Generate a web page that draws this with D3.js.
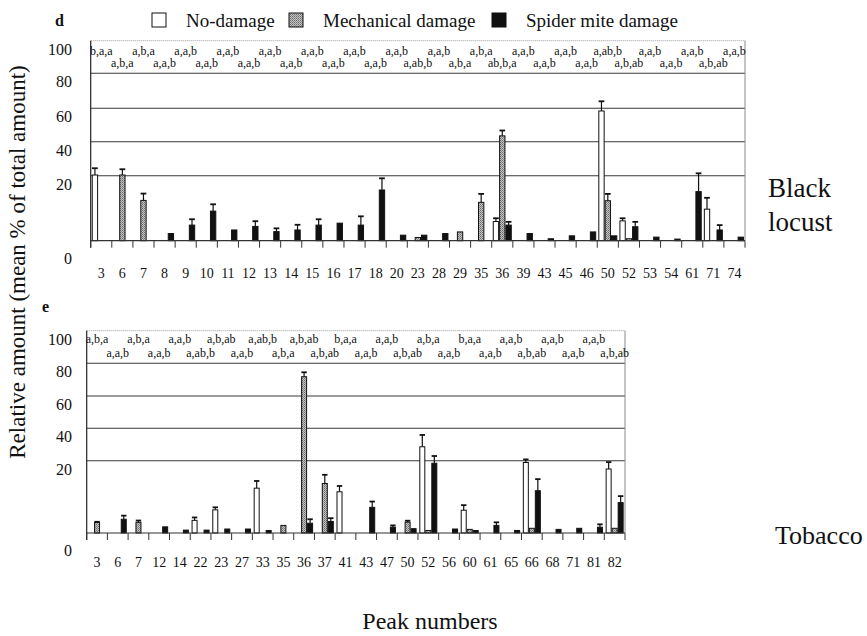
<!DOCTYPE html>
<html>
<head>
<meta charset="utf-8">
<script src="https://cdn.jsdelivr.net/npm/d3@7"></script>
<style>
  html, body { margin: 0; padding: 0; background: #fff; }
  svg { display: block; }
</style>
</head>
<body>
<svg id="chart" width="867" height="636" font-family="'Liberation Serif', 'DejaVu Serif', serif"></svg>
<script>
// ---------- DATA ----------
const seriesNames = ["No-damage", "Mechanical damage", "Spider mite damage"];
const yTickValues = [0, 20, 40, 60, 80, 100];

// Panel d: Black locust
const peaksD = ["3","6","7","8","9","10","11","12","13","14","15","16","17","18","20","23","28","29","35","36","39","43","45","46","50","52","53","54","61","71","74"];
const noDamageD   = [20.4,0,0,0,0,0,0,0,0,0,0,0,0,0,0,0,0,0,0,5.9,0,0,0,0,58.4,6.1,0,0,0,9.7,0];
const noDamageErrD= [4.0,0,0,0,0,0,0,0,0,0,0,0,0,0,0,0,0,0,0,1.0,0,0,0,0,5.6,0.8,0,0,0,3.5,0];
const mechD       = [0,20.4,12.4,0,0,0,0,0,0,0,0,0,0,0,0,1.0,0,2.7,11.8,43.5,0,0,0,0,12.3,0.6,0,0,0,0,0];
const mechErrD    = [0,3.4,2.1,0,0,0,0,0,0,0,0,0,0,0,0,0,0,0,2.6,3.2,0,0,0,0,2.1,0,0,0,0,0,0];
const spiderD     = [0,0,0,2.2,4.8,9.1,3.3,4.4,2.8,3.3,4.8,5.4,4.8,15.6,1.7,1.7,2.2,0,0,4.8,2.2,0.6,1.5,2.7,1.5,4.3,1.1,0.5,15.1,3.3,1.1];
const spiderErrD  = [0,0,0,0,1.8,2.1,0,1.6,1.0,1.6,1.8,0,2.7,3.6,0,0,0,0,0,1.0,0,0,0,0,0,1.5,0,0,6.3,1.5,0];
const lettersD = ["b,a,a","a,b,a","a,b,a","a,a,b","a,a,b","a,a,b","a,a,b","a,a,b","a,a,b","a,a,b","a,a,b","a,a,b","a,a,b","a,a,b","a,a,b","a,ab,b","a,a,b","a,b,a","a,b,a","ab,b,a","a,a,b","a,a,b","a,a,b","a,a,b","a,ab,b","a,b,ab","a,a,b","a,a,b","a,a,b","a,b,ab","a,a,b"];

// Panel e: Tobacco
const peaksE = ["3","6","7","12","14","22","23","27","33","35","36","37","41","43","47","50","52","56","60","61","65","66","68","71","81","82"];
const noDamageE   = [0,0,0,0,0,3.5,6.4,0,12.4,0,0,0,11.4,0,0,0,28.6,0,6.3,0,0,19.5,0,0,0,17.7];
const noDamageErrE= [0,0,0,0,0,0.8,0.7,0,2.0,0,0,0,1.6,0,0,0,7.3,0,1.4,0,0,1.3,0,0,0,1.9];
const mechE       = [2.9,0,2.95,0,0,0,0,0,0,2.1,71.8,13.7,0,0,0,3.0,0.7,0,1.0,0,0,1.3,0,0,0,1.3];
const mechErrE    = [0.2,0,0.5,0,0,0,0,0,0,0,2.7,2.4,0,0,0,0.4,0,0,0,0,0,0,0,0,0,0];
const spiderE     = [0,3.8,0,1.7,0.8,0.8,1.1,1.1,0.7,0,2.7,3.2,0,7.1,1.6,1.2,19.3,1.1,0.7,2.1,0.7,11.7,1.0,1.3,1.6,8.4];
const spiderErrE  = [0,1.0,0,0,0,0,0,0,0,0,1.1,0.9,0,1.6,0.5,0,3.6,0,0,0.85,0,3.2,0,0,0.8,1.8];
const lettersE = ["a,b,a","a,a,b","a,b,a","a,a,b","a,a,b","a,ab,b","a,b,ab","a,a,b","a,ab,b","a,b,a","a,b,ab","a,b,ab","b,a,a","a,a,b","a,a,b","a,b,ab","a,b,a","a,a,b","b,a,a","a,a,b","a,a,b","a,b,ab","a,a,b","a,a,b","a,a,b","a,b,ab"];

// ---------- DRAW ----------
const svg = d3.select("#chart");
const defs = svg.append("defs");
const pat = defs.append("pattern").attr("id", "stipple").attr("patternUnits", "userSpaceOnUse")
  .attr("width", 2).attr("height", 2);
pat.append("rect").attr("width", 2).attr("height", 2).attr("fill", "#c4c4c4");
pat.append("rect").attr("x", 0).attr("y", 0).attr("width", 1).attr("height", 1).attr("fill", "#6a6a6a");
pat.append("rect").attr("x", 1).attr("y", 1).attr("width", 1).attr("height", 1).attr("fill", "#8a8a8a");

const fills = ["#ffffff", "url(#stipple)", "#111111"];
const INK = "#111";

function drawPanel(cfg) {
  const g = svg.append("g");
  const x = d3.scaleBand().domain(cfg.peaks).range([cfg.left, cfg.right]).paddingInner(0).paddingOuter(0);
  const y = d3.scaleLinear().domain(yTickValues).range(cfg.yRange);
  const groupW = cfg.groupW;
  const x1 = d3.scaleBand().domain(seriesNames).range([0, groupW]);
  const off = (x.bandwidth() - groupW) / 2;

  // grid lines 20..80
  g.selectAll("line.grid").data([20, 40, 60, 80]).join("line")
    .attr("x1", cfg.left).attr("x2", cfg.right)
    .attr("y1", d => y(d)).attr("y2", d => y(d))
    .attr("stroke", "#3a3a3a").attr("stroke-width", 1.1);
  // top border (100)
  g.append("line").attr("x1", cfg.left).attr("x2", cfg.right)
    .attr("y1", y(100)).attr("y2", y(100))
    .attr("stroke", "#9a9a9a").attr("stroke-width", 1).attr("stroke-dasharray", "1,1");
  // right border
  g.append("line").attr("x1", cfg.right).attr("x2", cfg.right)
    .attr("y1", y(100)).attr("y2", y(0))
    .attr("stroke", "#8a8a8a").attr("stroke-width", 1);

  // letters
  g.selectAll("text.let").data(cfg.letters).join("text")
    .attr("x", (d, i) => x(cfg.peaks[i]) + x.bandwidth() / 2)
    .attr("y", (d, i) => i % 2 === 0 ? cfg.letY1 : cfg.letY2)
    .attr("text-anchor", "middle").attr("font-size", 12).attr("fill", INK)
    .text(d => d);

  // bars
  const series = [
    { name: seriesNames[0], vals: cfg.nd, errs: cfg.ndErr },
    { name: seriesNames[1], vals: cfg.mech, errs: cfg.mechErr },
    { name: seriesNames[2], vals: cfg.sp, errs: cfg.spErr }
  ];
  series.forEach((s, si) => {
    const recs = cfg.peaks.map((p, i) => ({ p, v: s.vals[i], e: s.errs[i] })).filter(r => r.v > 0);
    const bx = r => x(r.p) + off + x1(s.name);
    const bw = x1.bandwidth();
    const er = recs.filter(r => r.e > 0);
    g.selectAll(null).data(er).join("line")
      .attr("x1", r => bx(r) + bw / 2).attr("x2", r => bx(r) + bw / 2)
      .attr("y1", r => y(r.v)).attr("y2", r => y(r.v + r.e))
      .attr("stroke", INK).attr("stroke-width", 1.2);
    g.selectAll(null).data(er).join("line")
      .attr("x1", r => bx(r) + 0.3).attr("x2", r => bx(r) + bw - 0.3)
      .attr("y1", r => y(r.v + r.e)).attr("y2", r => y(r.v + r.e))
      .attr("stroke", INK).attr("stroke-width", 1.8);
    g.selectAll(null).data(recs).join("rect")
      .attr("x", r => bx(r) + 0.5).attr("width", bw - 1)
      .attr("y", r => y(r.v)).attr("height", r => y(0) - y(r.v))
      .attr("fill", fills[si]).attr("stroke", INK).attr("stroke-width", 1);
  });

  // left axis line
  g.append("line").attr("x1", cfg.left).attr("x2", cfg.left)
    .attr("y1", y(100)).attr("y2", y(0) + 7)
    .attr("stroke", "#222").attr("stroke-width", 1.2);
  // baseline with boundary ticks
  g.append("line").attr("x1", cfg.left).attr("x2", cfg.right)
    .attr("y1", y(0)).attr("y2", y(0)).attr("stroke", "#333").attr("stroke-width", 1.2);
  const bounds = cfg.peaks.map(p => x(p)).concat([cfg.right]);
  g.selectAll(null).data(bounds).join("line")
    .attr("x1", d => d).attr("x2", d => d)
    .attr("y1", y(0)).attr("y2", y(0) + 7)
    .attr("stroke", "#333").attr("stroke-width", 1);

  // x tick labels
  g.selectAll(null).data(cfg.peaks).join("text")
    .attr("x", d => x(d) + x.bandwidth() / 2).attr("y", cfg.xLabY)
    .attr("text-anchor", "middle").attr("font-size", 14).attr("fill", INK)
    .text(d => d);

  // y tick labels
  g.selectAll(null).data(yTickValues).join("text")
    .attr("x", 72).attr("y", d => d === 0 ? y(0) + 23 : y(d) + 14)
    .attr("text-anchor", "end").attr("font-size", 16).attr("fill", INK)
    .text(d => d);

  return { x, y };
}

drawPanel({
  peaks: peaksD, nd: noDamageD, ndErr: noDamageErrD, mech: mechD, mechErr: mechErrD, sp: spiderD, spErr: spiderErrD,
  letters: lettersD, left: 90.7, right: 745, yRange: [240.7, 175.7, 141.7, 108.3, 73.3, 40.7],
  groupW: 19, letY1: 54.5, letY2: 67, xLabY: 278
});
drawPanel({
  peaks: peaksE, nd: noDamageE, ndErr: noDamageErrE, mech: mechE, mechErr: mechErrE, sp: spiderE, spErr: spiderErrE,
  letters: lettersE, left: 86.7, right: 625, yRange: [533, 460.7, 428.3, 396, 363.3, 330.7],
  groupW: 18, letY1: 343, letY2: 357, xLabY: 567
});

// panel letters
svg.append("text").attr("x", 55).attr("y", 26).attr("font-size", 16).attr("font-weight", "bold").attr("fill", INK).text("d");
svg.append("text").attr("x", 42).attr("y", 312).attr("font-size", 16).attr("font-weight", "bold").attr("fill", INK).text("e");

// legend
const legend = svg.append("g");
const legendX = [152, 289, 492];
seriesNames.forEach((n, i) => {
  legend.append("rect").attr("x", legendX[i]).attr("y", 13).attr("width", 14).attr("height", 14)
    .attr("fill", fills[i]).attr("stroke", INK).attr("stroke-width", 1);
  legend.append("text").attr("x", legendX[i] + 34).attr("y", 26.5).attr("font-size", 19).attr("fill", INK).text(n);
});

// side labels
svg.append("text").attr("x", 768).attr("y", 197).attr("font-size", 27).attr("fill", INK).text("Black");
svg.append("text").attr("x", 768).attr("y", 231).attr("font-size", 27).attr("fill", INK).text("locust");
svg.append("text").attr("x", 775).attr("y", 544).attr("font-size", 26).attr("fill", INK).text("Tobacco");

// axis titles
svg.append("text").attr("transform", "translate(25,262) rotate(-90)")
  .attr("text-anchor", "middle").attr("font-size", 23).attr("fill", INK)
  .text("Relative amount (mean % of total amount)");
svg.append("text").attr("x", 430).attr("y", 629).attr("text-anchor", "middle").attr("font-size", 24).attr("fill", INK)
  .text("Peak numbers");
</script>
</body>
</html>
